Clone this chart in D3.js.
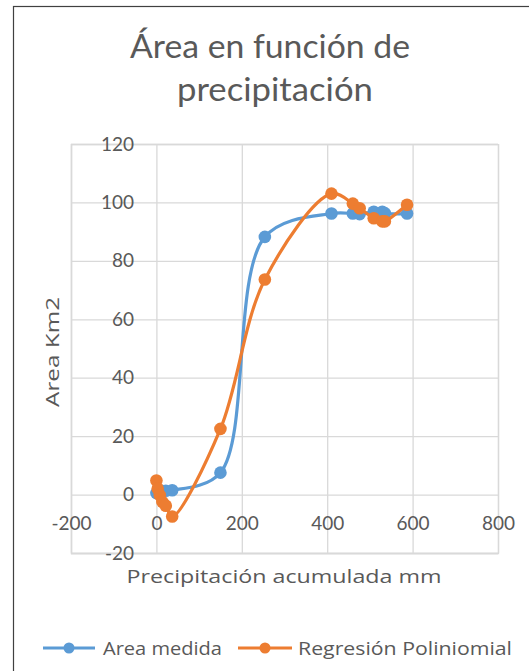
<!DOCTYPE html>
<html>
<head>
<meta charset="utf-8">
<script src="https://cdn.jsdelivr.net/npm/d3@7"></script>
<style>
  html, body { margin: 0; padding: 0; background: #fff; }
  svg { display: block; }
  text { font-family: Lato, "Open Sans", sans-serif; fill: #595959; }
</style>
</head>
<body>
<svg id="chart" width="529" height="671"></svg>
<script>
// ---- data ----
const precip = [0, 3, 8, 14, 22, 37, 150, 254, 410, 460, 476, 509, 529, 535, 587];
const areaMedida = [0.5, 0.8, 1.0, 1.2, 1.3, 1.5, 7.5, 88.2, 96.2, 96.2, 96.0, 96.8, 96.8, 96.3, 96.2];
const regresion = [4.8, 2.0, -0.2, -2.5, -3.8, -7.5, 22.5, 73.6, 103.0, 99.6, 98.0, 94.6, 93.5, 93.5, 99.2];
const xTicks = [-200, 0, 200, 400, 600, 800];
const yTicks = [-20, 0, 20, 40, 60, 80, 100, 120];
const seriesNames = ["Area medida", "Regresión Poliniomial"];
const seriesColors = ["#5B9BD5", "#ED7D31"];
const titleLines = ["Área en función de", "precipitación"];
const xTitle = "Precipitación acumulada mm";
const yTitle = "Area Km2";

const svg = d3.select("#chart");

// frame
svg.append("rect").attr("x", 13.5).attr("y", 6.5).attr("width", 600).attr("height", 700)
  .attr("fill", "none").attr("stroke", "#404040").attr("stroke-width", 1.2);

const x = d3.scaleLinear().domain([-200, 800]).range([71, 498]);
const y = d3.scaleLinear().domain([-20, 120]).range([553, 144]);

// grid
const gx = svg.append("g").attr("transform", `translate(0,${y(-20)})`)
  .call(d3.axisBottom(x).tickValues(xTicks).tickSize(-(y(-20) - y(120))).tickFormat(""));
const gy = svg.append("g").attr("transform", `translate(${x(-200)},0)`)
  .call(d3.axisLeft(y).tickValues(yTicks).tickSize(-(x(800) - x(-200))).tickFormat(""));
[gx, gy].forEach(g => {
  g.selectAll("line").attr("stroke", "#d9d9d9").attr("stroke-width", 1.3);
  g.select(".domain").attr("stroke", "#d9d9d9").attr("stroke-width", 1.3);
});

// tick labels
const fmt = d => String(d);
const lx = svg.append("g").attr("transform", `translate(0,${y(0)})`)
  .call(d3.axisBottom(x).tickValues(xTicks).tickSize(0).tickPadding(22).tickFormat(fmt));
lx.select(".domain").remove();
lx.selectAll("text").style("font-size", "19px").style("font-family", "Lato").attr("fill", "#595959");

const ly = svg.append("g").attr("transform", `translate(134,0)`)
  .call(d3.axisLeft(y).tickValues(yTicks).tickSize(0).tickPadding(0).tickFormat(fmt));
ly.select(".domain").remove();
ly.selectAll("text").style("font-size", "19px").style("font-family", "Lato").attr("fill", "#595959");

// titles
const titleCx = [270, 275], titleLen = [280, 196];
svg.append("g").selectAll("text").data(titleLines).join("text")
  .attr("x", (d, i) => titleCx[i]).attr("y", (d, i) => 58 + i * 43)
  .attr("text-anchor", "middle").style("font-size", "32px")
  .attr("textLength", (d, i) => titleLen[i]).attr("lengthAdjust", "spacingAndGlyphs")
  .text(d => d);

svg.append("text").attr("x", 284).attr("y", 583).attr("text-anchor", "middle")
  .style("font-family", "Open Sans").style("font-size", "19px")
  .attr("textLength", 315).attr("lengthAdjust", "spacingAndGlyphs").text(xTitle);
svg.append("text").attr("transform", "translate(59,352) rotate(-90)").attr("text-anchor", "middle")
  .style("font-family", "Open Sans").style("font-size", "19px")
  .attr("textLength", 110).attr("lengthAdjust", "spacingAndGlyphs").text(yTitle);

// series
const series = [areaMedida, regresion];
const line = d3.line().x(d => x(d[0])).y(d => y(d[1])).curve(d3.curveCatmullRom.alpha(0.5));
series.forEach((vals, si) => {
  const pts = precip.map((p, i) => [p, vals[i]]);
  const g = svg.append("g");
  g.append("path").attr("d", line(pts)).attr("fill", "none")
    .attr("stroke", seriesColors[si]).attr("stroke-width", 3.2).attr("stroke-linecap", "round");
  g.selectAll("circle").data(pts).join("circle")
    .attr("cx", d => x(d[0])).attr("cy", d => y(d[1])).attr("r", 6.3)
    .attr("fill", seriesColors[si]);
});

// legend
const legendItems = [{x0: 43, x1: 95, tx: 103, len: 119}, {x0: 238, x1: 292, tx: 298, len: 214}];
legendItems.forEach((it, i) => {
  const g = svg.append("g");
  g.append("line").attr("x1", it.x0).attr("x2", it.x1).attr("y1", 648).attr("y2", 648)
    .attr("stroke", seriesColors[i]).attr("stroke-width", 3);
  g.append("circle").attr("cx", (it.x0 + it.x1) / 2).attr("cy", 648).attr("r", 5.5).attr("fill", seriesColors[i]);
  g.append("text").attr("x", it.tx).attr("y", 655)
    .style("font-family", "Open Sans").style("font-size", "19px")
    .attr("textLength", it.len).attr("lengthAdjust", "spacingAndGlyphs").text(seriesNames[i]);
});
</script>
</body>
</html>
